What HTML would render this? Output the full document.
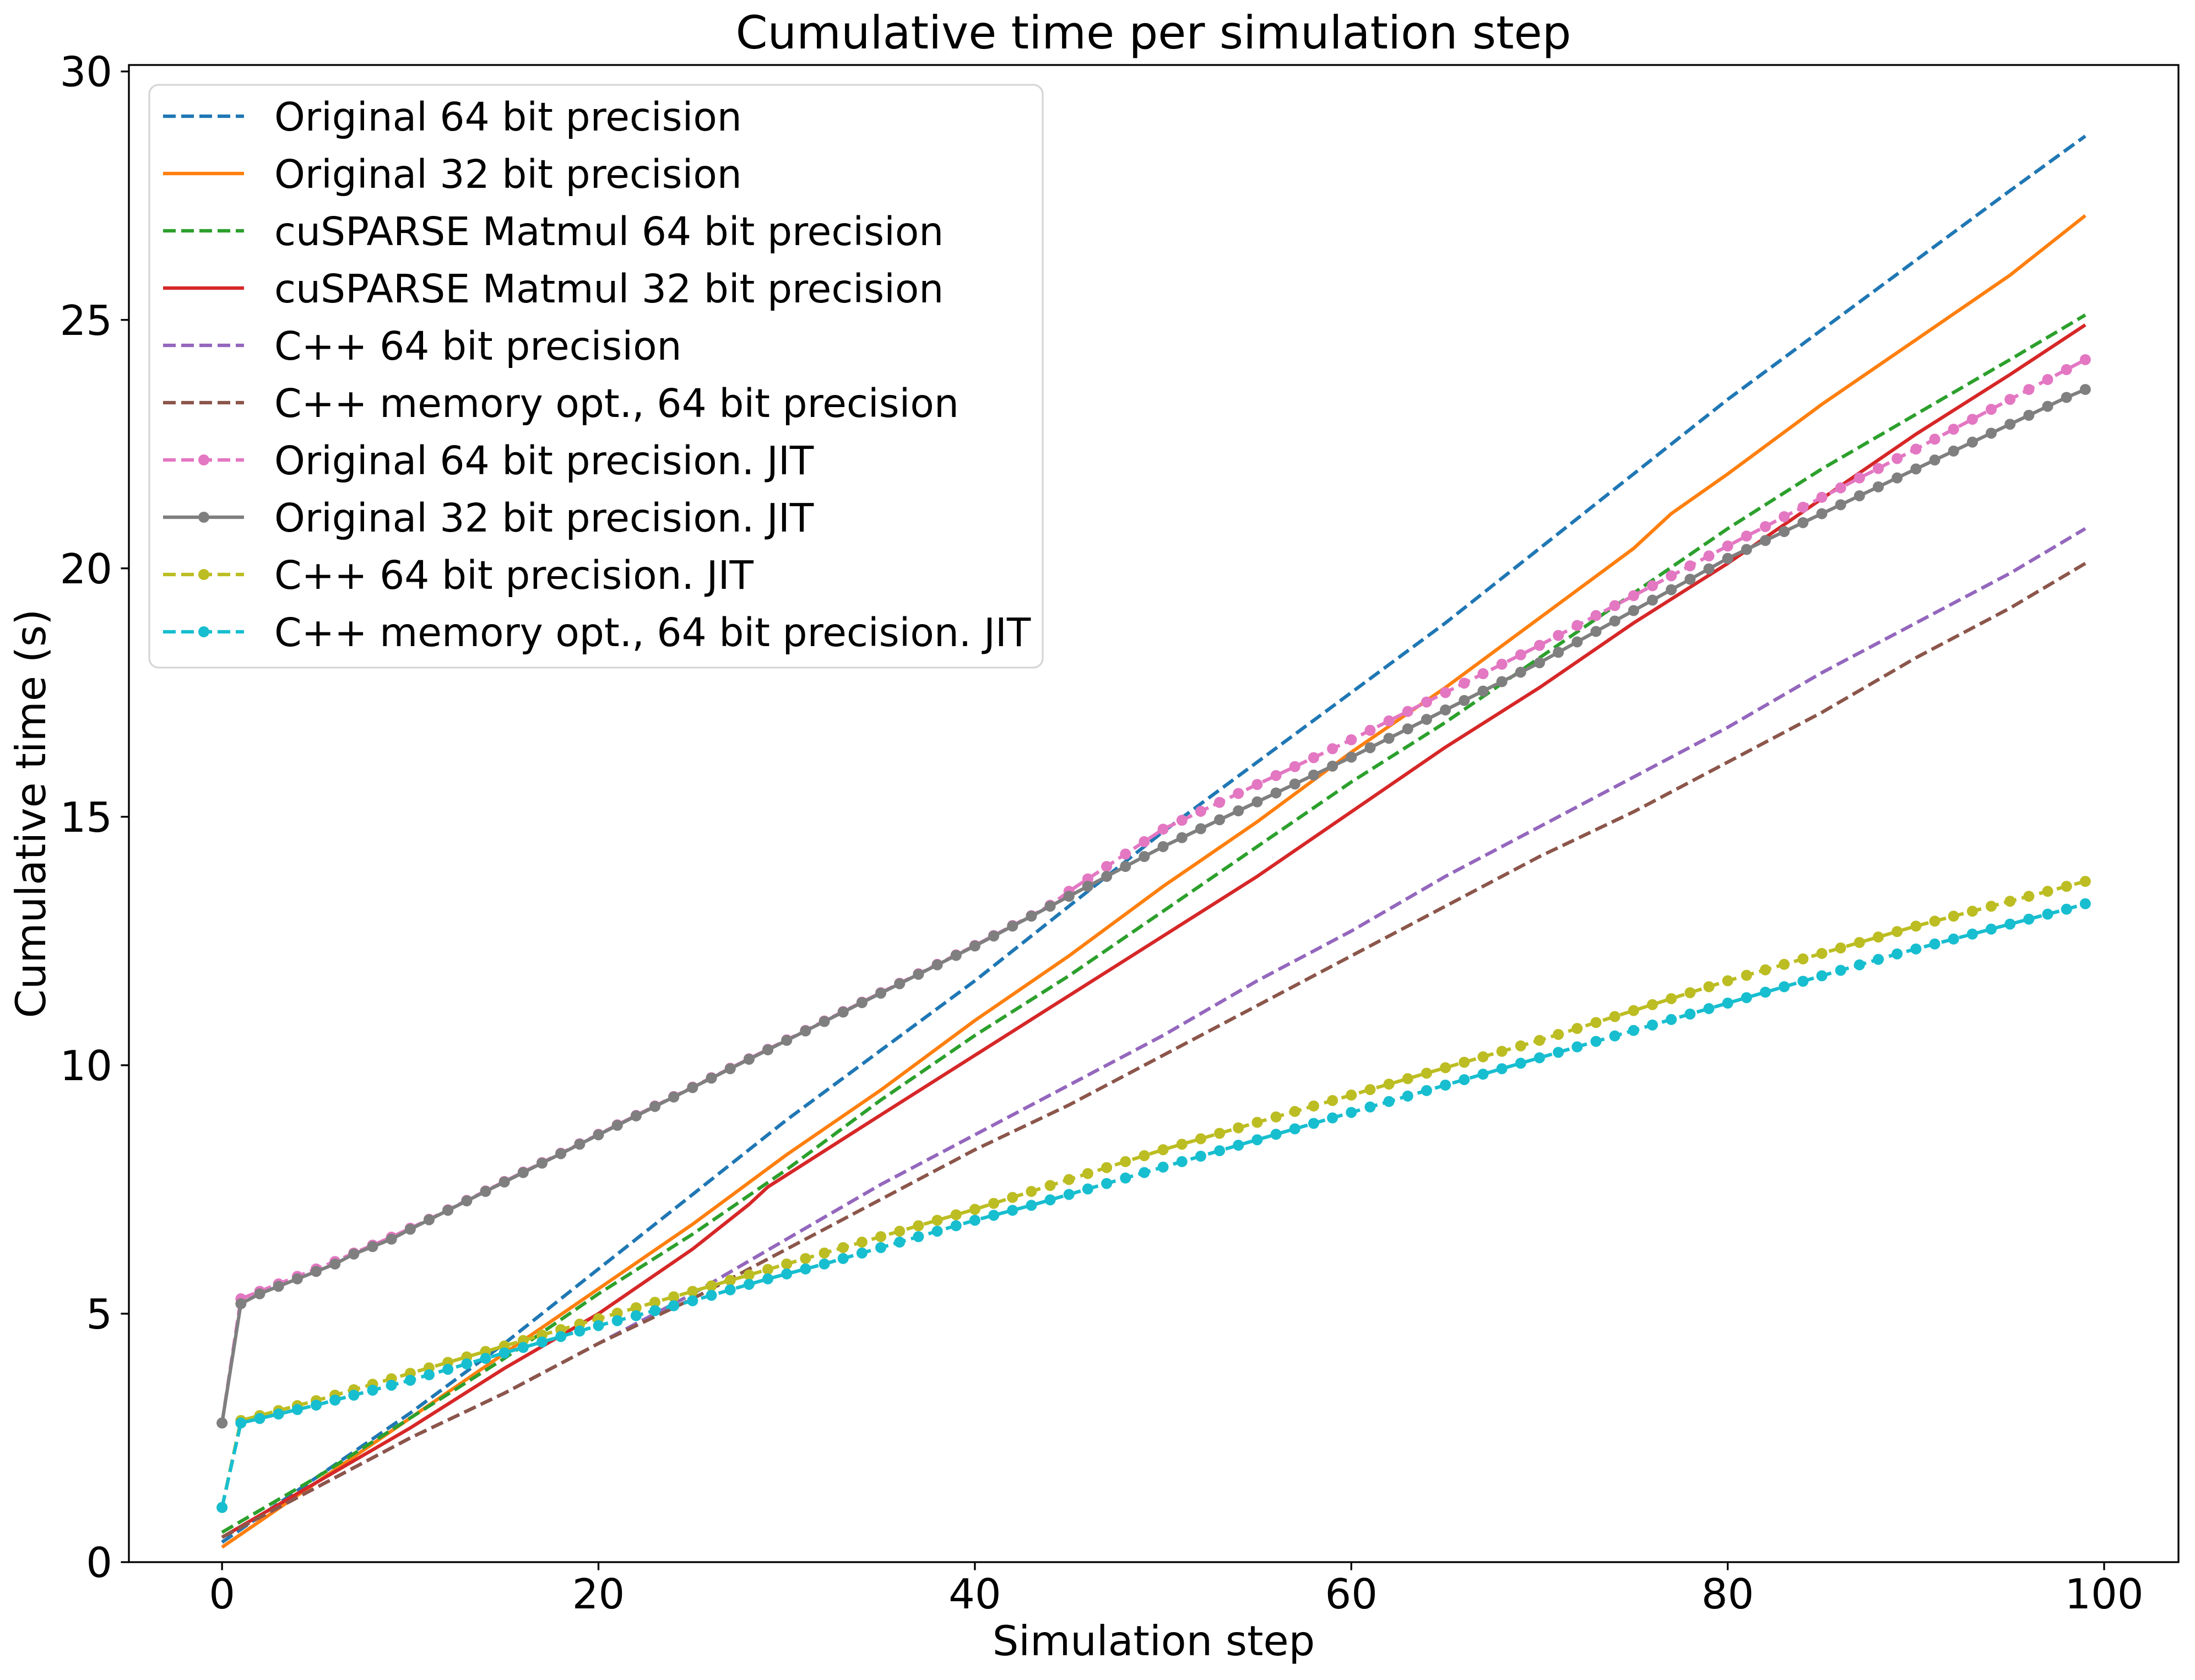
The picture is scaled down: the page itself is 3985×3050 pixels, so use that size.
<!DOCTYPE html>
<html><head><meta charset="utf-8"><style>
html,body{margin:0;padding:0;background:#fff}
svg{display:block;font-family:"DejaVu Sans","Liberation Sans",sans-serif}
</style></head><body>
<svg id="chart" width="3985" height="3050" viewBox="0 0 3985 3050" xmlns="http://www.w3.org/2000/svg">
<rect width="3985" height="3050" fill="#fff"/>
<text x="2094" y="88" font-size="83" text-anchor="middle">Cumulative time per simulation step</text>
<g id="plot"></g>
<g id="axes"></g>
<g id="legend"></g>
</svg>
<script>
const xKnots = [0,5,10,15,20,25,30,35,40,45,50,55,60,65,70,75,80,85,90,95,99];
const orangeX = [0,5,10,15,20,25,30,35,40,45,50,55,60,65,70,75,77,80,85,90,95,99];
const redX = [0,5,10,15,20,25,28,29,35,40,45,50,55,60,65,70,75,80,85,90,95,99];
const orig64 = [0.4,1.7,3.0,4.4,5.9,7.4,8.9,10.3,11.7,13.2,14.7,16.1,17.5,18.9,20.4,21.9,23.4,24.8,26.2,27.6,28.7];
const orig32 = [0.3,1.6,2.9,4.2,5.5,6.8,8.2,9.5,10.9,12.2,13.6,14.9,16.3,17.6,19.0,20.4,21.1,21.9,23.3,24.6,25.9,27.1];
const cus64 = [0.6,1.7,2.9,4.1,5.4,6.6,7.9,9.3,10.6,11.8,13.1,14.4,15.7,16.9,18.2,19.5,20.8,22.0,23.1,24.2,25.1];
const cus32 = [0.5,1.6,2.7,3.9,5.0,6.3,7.2,7.55,9.0,10.2,11.4,12.6,13.8,15.1,16.4,17.6,18.9,20.1,21.4,22.7,23.9,24.9];
const cpp64 = [0.5,1.5,2.5,3.4,4.4,5.4,6.5,7.6,8.6,9.6,10.6,11.7,12.7,13.8,14.8,15.8,16.8,17.9,18.9,19.9,20.8];
const cppMem = [0.5,1.5,2.5,3.4,4.4,5.3,6.3,7.3,8.3,9.2,10.2,11.2,12.2,13.2,14.2,15.1,16.1,17.1,18.2,19.2,20.1];
const orig64Jit = [2.8,5.3,5.45,5.6,5.75,5.9,6.05,6.22,6.38,6.54,6.72,6.9,7.09,7.28,7.47,7.66,7.85,8.04,8.23,8.42,8.61,8.8,8.99,9.18,9.37,9.56,9.75,9.94,10.13,10.32,10.51,10.7,10.89,11.08,11.27,11.46,11.65,11.84,12.03,12.22,12.41,12.61,12.81,13.01,13.22,13.5,13.75,14.0,14.25,14.5,14.75,14.93,15.11,15.29,15.47,15.65,15.83,16.01,16.19,16.37,16.55,16.74,16.93,17.12,17.31,17.5,17.69,17.88,18.07,18.26,18.45,18.65,18.85,19.05,19.25,19.45,19.65,19.85,20.05,20.25,20.45,20.65,20.84,21.04,21.23,21.43,21.62,21.82,22.01,22.21,22.4,22.6,22.8,23.0,23.2,23.4,23.6,23.8,24.0,24.2];
const orig32Jit = [2.8,5.2,5.4,5.55,5.7,5.85,6.0,6.2,6.35,6.5,6.7,6.89,7.08,7.27,7.46,7.65,7.84,8.03,8.22,8.41,8.6,8.79,8.98,9.17,9.36,9.55,9.74,9.93,10.12,10.31,10.5,10.69,10.88,11.07,11.26,11.45,11.64,11.83,12.02,12.21,12.4,12.6,12.8,13.0,13.2,13.4,13.6,13.8,14.0,14.2,14.4,14.58,14.76,14.94,15.12,15.3,15.48,15.66,15.84,16.02,16.2,16.39,16.58,16.77,16.96,17.15,17.34,17.53,17.72,17.91,18.1,18.31,18.52,18.73,18.94,19.15,19.36,19.57,19.78,19.99,20.2,20.38,20.56,20.74,20.92,21.1,21.28,21.46,21.64,21.82,22.0,22.18,22.36,22.54,22.72,22.9,23.08,23.26,23.44,23.6];
const cpp64Jit = [1.1,2.85,2.95,3.05,3.15,3.25,3.36,3.47,3.58,3.69,3.8,3.91,4.02,4.13,4.24,4.35,4.46,4.57,4.68,4.79,4.9,5.01,5.12,5.23,5.34,5.45,5.56,5.67,5.78,5.89,6.0,6.11,6.22,6.33,6.44,6.55,6.66,6.77,6.88,6.99,7.1,7.22,7.34,7.46,7.58,7.7,7.82,7.94,8.06,8.18,8.3,8.41,8.52,8.63,8.74,8.85,8.96,9.07,9.18,9.29,9.4,9.51,9.62,9.73,9.84,9.95,10.06,10.17,10.28,10.39,10.5,10.62,10.74,10.86,10.98,11.1,11.22,11.34,11.46,11.58,11.7,11.81,11.92,12.03,12.14,12.25,12.36,12.47,12.58,12.69,12.8,12.9,13.0,13.1,13.2,13.3,13.4,13.5,13.6,13.7];
const cppMemJit = [1.1,2.8,2.89,2.98,3.07,3.16,3.26,3.36,3.46,3.56,3.66,3.77,3.88,3.99,4.1,4.21,4.32,4.43,4.54,4.65,4.76,4.86,4.96,5.06,5.16,5.26,5.37,5.48,5.59,5.7,5.8,5.9,6.0,6.11,6.22,6.33,6.44,6.55,6.66,6.77,6.88,6.98,7.08,7.18,7.29,7.4,7.51,7.62,7.73,7.84,7.95,8.06,8.17,8.28,8.39,8.5,8.61,8.72,8.83,8.94,9.05,9.16,9.27,9.38,9.49,9.6,9.71,9.82,9.93,10.04,10.15,10.26,10.37,10.48,10.59,10.7,10.81,10.92,11.03,11.14,11.25,11.36,11.47,11.58,11.69,11.8,11.91,12.02,12.13,12.24,12.34,12.44,12.54,12.64,12.74,12.84,12.94,13.04,13.14,13.25];
const xTicks = [0,20,40,60,80,100];
const yTicks = [0,5,10,15,20,25,30];
const seriesNames = ["Original 64 bit precision","Original 32 bit precision","cuSPARSE Matmul 64 bit precision","cuSPARSE Matmul 32 bit precision","C++ 64 bit precision","C++ memory opt., 64 bit precision","Original 64 bit precision. JIT","Original 32 bit precision. JIT","C++ 64 bit precision. JIT","C++ memory opt., 64 bit precision. JIT"];

const NS = "http://www.w3.org/2000/svg";
const L = 234, R = 3955, T = 118, B = 2836;
const xMin = -4.95, xMax = 103.95, yMin = 0, yMax = 30.13;
const sx = v => L + (v - xMin) / (xMax - xMin) * (R - L);
const sy = v => B - (v - yMin) / (yMax - yMin) * (B - T);
function mk(tag, attrs, parent) {
  const e = document.createElementNS(NS, tag);
  for (const k in attrs) e.setAttribute(k, attrs[k]);
  parent.appendChild(e);
  return e;
}
const plot = document.getElementById('plot');
const axes = document.getElementById('axes');
const legend = document.getElementById('legend');
const DASH = "23 10";
const steps = orig32Jit.map((_, i) => i);
const specs = [
  {xs: xKnots, ys: orig64, c: "#1f77b4", dash: true, m: false, n: "series-original-64"},
  {xs: orangeX, ys: orig32, c: "#ff7f0e", dash: false, m: false, n: "series-original-32"},
  {xs: xKnots, ys: cus64, c: "#2ca02c", dash: true, m: false, n: "series-cusparse-64"},
  {xs: redX, ys: cus32, c: "#d62728", dash: false, m: false, n: "series-cusparse-32"},
  {xs: xKnots, ys: cpp64, c: "#9467bd", dash: true, m: false, n: "series-cpp-64"},
  {xs: xKnots, ys: cppMem, c: "#8c564b", dash: true, m: false, n: "series-cpp-memopt-64"},
  {xs: steps, ys: orig64Jit, c: "#e377c2", dash: true, m: true, n: "series-original-64-jit"},
  {xs: steps, ys: orig32Jit, c: "#7f7f7f", dash: false, m: true, n: "series-original-32-jit"},
  {xs: steps, ys: cpp64Jit, c: "#bcbd22", dash: true, m: true, n: "series-cpp-64-jit"},
  {xs: steps, ys: cppMemJit, c: "#17becf", dash: true, m: true, n: "series-cpp-memopt-64-jit"}
];
specs.forEach(s => {
  const g = mk('g', {}, plot);
  
  
  const pts = s.ys.map((v, i) => sx(s.xs[i]).toFixed(1) + ',' + sy(v).toFixed(1)).join(' ');
  const pl = mk('polyline', {points: pts, fill: 'none', stroke: s.c, 'stroke-width': 6.25, 'stroke-linejoin': 'round'}, g);
  if (s.dash) pl.setAttribute('stroke-dasharray', DASH);
  
  
  if (s.m) {
    s.ys.forEach((v, i) => {
      const c = mk('circle', {cx: sx(s.xs[i]), cy: sy(v), r: 10, fill: s.c}, g);
      
      
    });
  }
});
const frame = mk('rect', {x: L, y: T, width: R - L, height: B - T, fill: 'none', stroke: '#000', 'stroke-width': 3.3}, axes);


xTicks.forEach(t => {
  const x = sx(t);
  const tk = mk('line', {x1: x, x2: x, y1: B, y2: B + 14.6, stroke: '#000', 'stroke-width': 3.3}, axes);
  
  
  const tx = mk('text', {x: x, y: B + 84, 'font-size': 75, 'text-anchor': 'middle'}, axes);
  tx.textContent = t;
  
  
});
yTicks.forEach(t => {
  const y = sy(t);
  const tk = mk('line', {x1: L - 14.6, x2: L, y1: y, y2: y, stroke: '#000', 'stroke-width': 3.3}, axes);
  
  
  const tx = mk('text', {x: L - 30, y: y + 27, 'font-size': 75, 'text-anchor': 'end'}, axes);
  tx.textContent = t;
  
  
});
const xl = mk('text', {x: (L + R) / 2, y: 3005, 'font-size': 75, 'text-anchor': 'middle'}, axes);
xl.textContent = 'Simulation step';


const yl = mk('text', {x: 0, y: 0, 'font-size': 75, 'text-anchor': 'middle', transform: 'translate(82,' + ((T + B) / 2) + ') rotate(-90)'}, axes);
yl.textContent = 'Cumulative time (s)';


const lb = mk('rect', {x: 271, y: 154, width: 1622, height: 1058, rx: 17, fill: '#fff', 'fill-opacity': 0.8, stroke: '#d6d6d6', 'stroke-width': 3.3}, legend);


specs.forEach((s, i) => {
  const y = 211 + i * 104;
  const g = mk('g', {}, legend);
  
  
  const ln = mk('line', {x1: 296, x2: 443, y1: y, y2: y, stroke: s.c, 'stroke-width': 6.25}, g);
  if (s.dash) ln.setAttribute('stroke-dasharray', DASH);
  
  
  if (s.m) {
    const c = mk('circle', {cx: 370, cy: y, r: 10, fill: s.c}, g);
    
    
  }
  const t = mk('text', {x: 498, y: y + 26, 'font-size': 71}, g);
  t.textContent = seriesNames[i];
  
  
});
</script>
</body></html>
